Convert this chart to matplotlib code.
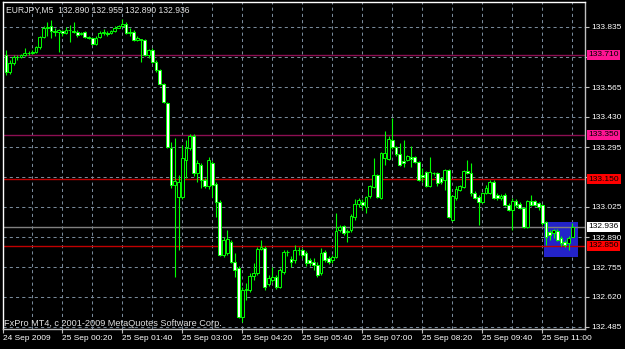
import matplotlib
matplotlib.use("Agg")
import matplotlib.pyplot as plt
from matplotlib.patches import Rectangle
import matplotlib.transforms as mtransforms

# EURJPY M5 bars (one value per bar)
opens = [133.709, 133.633, 133.673, 133.700, 133.700, 133.709, 133.718, 133.718, 133.723, 133.745,
         133.790, 133.831, 133.840, 133.817, 133.813, 133.817, 133.808, 133.822, 133.817, 133.813,
         133.804, 133.813, 133.790, 133.786, 133.759, 133.790, 133.808, 133.808, 133.808, 133.817,
         133.831, 133.840, 133.849, 133.808, 133.813, 133.777, 133.781, 133.777, 133.709, 133.732,
         133.678, 133.642, 133.579, 133.493, 133.291, 133.124, 133.070, 133.070, 133.237, 133.291,
         133.345, 133.178, 133.214, 133.147, 133.120, 133.223, 133.129, 133.048, 132.809, 132.818,
         132.868, 132.778, 132.751, 132.530, 132.652, 132.652, 132.715, 132.728, 132.836, 132.841,
         132.679, 132.697, 132.710, 132.665, 132.733, 132.823, 132.791, 132.787, 132.832, 132.832,
         132.818, 132.787, 132.778, 132.764, 132.728, 132.823, 132.796, 132.787, 132.800, 132.922,
         132.940, 132.913, 132.922, 132.980, 133.039, 133.048, 133.025, 133.075, 133.115, 133.169,
         133.066, 133.246, 133.241, 133.327, 133.295, 133.264, 133.232, 133.237, 133.250, 133.250,
         133.228, 133.169, 133.183, 133.120, 133.178, 133.178, 133.156, 133.147, 133.192, 132.967,
         133.066, 133.102, 133.115, 133.187, 133.178, 133.088, 133.070, 133.048, 133.088, 133.088,
         133.138, 133.079, 133.066, 133.079, 133.034, 133.012, 133.052, 133.039, 133.021, 132.935,
         133.052, 133.052, 133.043, 133.034, 132.958, 132.913, 132.908, 132.917, 132.886, 132.868,
         132.863, 132.890]
highs = [133.732, 133.687, 133.709, 133.709, 133.714, 133.741, 133.727, 133.732, 133.750, 133.795,
         133.840, 133.858, 133.867, 133.831, 133.826, 133.822, 133.835, 133.844, 133.858, 133.822,
         133.813, 133.817, 133.795, 133.790, 133.795, 133.817, 133.826, 133.817, 133.822, 133.840,
         133.844, 133.871, 133.858, 133.831, 133.822, 133.795, 133.781, 133.781, 133.736, 133.741,
         133.687, 133.646, 133.583, 133.498, 133.318, 133.336, 133.169, 133.304, 133.327, 133.354,
         133.354, 133.237, 133.223, 133.156, 133.250, 133.232, 133.138, 133.057, 132.890, 132.922,
         132.877, 132.818, 132.760, 132.665, 132.683, 132.728, 132.773, 132.845, 132.877, 132.850,
         132.719, 132.755, 132.719, 132.751, 132.832, 132.832, 132.805, 132.854, 132.845, 132.841,
         132.827, 132.796, 132.796, 132.778, 132.841, 132.832, 132.805, 132.809, 132.998, 132.944,
         132.944, 132.926, 132.994, 133.061, 133.066, 133.061, 133.075, 133.124, 133.246, 133.174,
         133.273, 133.367, 133.345, 133.426, 133.300, 133.313, 133.327, 133.259, 133.300, 133.255,
         133.232, 133.201, 133.187, 133.250, 133.183, 133.183, 133.160, 133.196, 133.196, 133.079,
         133.120, 133.124, 133.192, 133.237, 133.223, 133.097, 133.079, 133.093, 133.124, 133.147,
         133.147, 133.088, 133.084, 133.088, 133.043, 133.066, 133.061, 133.048, 133.025, 133.057,
         133.079, 133.057, 133.048, 133.039, 132.962, 132.922, 132.926, 132.926, 132.895, 132.877,
         132.895, 132.955]
lows = [133.619, 133.624, 133.664, 133.687, 133.696, 133.705, 133.709, 133.714, 133.718, 133.736,
        133.786, 133.795, 133.786, 133.795, 133.723, 133.795, 133.804, 133.768, 133.808, 133.790,
        133.799, 133.786, 133.781, 133.754, 133.754, 133.786, 133.799, 133.795, 133.804, 133.813,
        133.831, 133.835, 133.804, 133.795, 133.772, 133.772, 133.678, 133.705, 133.696, 133.673,
        133.633, 133.574, 133.493, 133.291, 133.111, 132.710, 132.832, 133.061, 133.156, 133.282,
        133.165, 133.138, 133.111, 133.111, 133.106, 133.070, 132.980, 132.805, 132.800, 132.809,
        132.773, 132.710, 132.526, 132.508, 132.607, 132.643, 132.697, 132.719, 132.832, 132.652,
        132.670, 132.688, 132.656, 132.661, 132.724, 132.805, 132.755, 132.773, 132.809, 132.796,
        132.760, 132.760, 132.742, 132.710, 132.719, 132.778, 132.769, 132.773, 132.796, 132.913,
        132.899, 132.868, 132.913, 132.967, 133.025, 133.012, 132.998, 133.066, 133.111, 133.066,
        133.061, 133.214, 133.237, 133.286, 133.255, 133.210, 133.205, 133.232, 133.205, 133.223,
        133.142, 133.138, 133.115, 133.115, 133.169, 133.120, 133.129, 133.102, 132.976, 132.962,
        133.057, 133.097, 133.111, 133.174, 133.075, 133.061, 132.944, 133.043, 133.084, 133.084,
        133.061, 133.057, 133.057, 133.030, 133.007, 132.922, 133.025, 133.016, 132.931, 132.931,
        133.030, 133.030, 133.012, 132.944, 132.854, 132.877, 132.886, 132.872, 132.850, 132.845,
        132.832, 132.890]
closes = [133.633, 133.673, 133.700, 133.700, 133.709, 133.718, 133.718, 133.723, 133.745, 133.790,
          133.831, 133.835, 133.817, 133.813, 133.822, 133.808, 133.822, 133.822, 133.813, 133.799,
          133.808, 133.790, 133.786, 133.759, 133.786, 133.808, 133.813, 133.804, 133.817, 133.831,
          133.840, 133.849, 133.808, 133.813, 133.777, 133.786, 133.777, 133.709, 133.732, 133.678,
          133.642, 133.579, 133.498, 133.295, 133.124, 133.142, 133.138, 133.246, 133.291, 133.345,
          133.178, 133.223, 133.147, 133.120, 133.237, 133.124, 133.048, 132.809, 132.877, 132.881,
          132.778, 132.742, 132.530, 132.652, 132.656, 132.715, 132.728, 132.836, 132.845, 132.665,
          132.706, 132.710, 132.665, 132.742, 132.823, 132.823, 132.778, 132.832, 132.832, 132.809,
          132.773, 132.773, 132.764, 132.719, 132.818, 132.787, 132.778, 132.800, 132.917, 132.935,
          132.908, 132.917, 132.985, 133.039, 133.057, 133.034, 133.070, 133.120, 133.169, 133.070,
          133.268, 133.268, 133.331, 133.295, 133.264, 133.214, 133.223, 133.255, 133.241, 133.228,
          133.147, 133.160, 133.120, 133.183, 133.178, 133.133, 133.138, 133.192, 132.980, 133.075,
          133.106, 133.120, 133.187, 133.178, 133.088, 133.066, 133.048, 133.088, 133.111, 133.138,
          133.066, 133.066, 133.075, 133.034, 133.012, 133.052, 133.034, 133.021, 132.935, 133.052,
          133.034, 133.034, 133.025, 132.953, 132.890, 132.899, 132.922, 132.877, 132.863, 132.854,
          132.886, 132.936]

time_labels = ["24 Sep 2009", "25 Sep 00:20", "25 Sep 01:40", "25 Sep 03:00", "25 Sep 04:20",
               "25 Sep 05:40", "25 Sep 07:00", "25 Sep 08:20", "25 Sep 09:40", "25 Sep 11:00"]
time_label_bars = [-0.8, 15, 31, 47, 63, 79, 95, 111, 127, 143]

price_grid = [133.835, 133.700, 133.565, 133.430, 133.295, 133.160, 133.025,
              132.890, 132.755, 132.620, 132.485]
price_labels = ["133.835", "", "133.565", "133.430", "133.295", "", "133.025",
                "132.890", "132.755", "132.620", "132.485"]

levels = [133.710, 133.350, 133.150, 132.850]
level_line_colors = ["#8c0f52", "#8c0f52", "#c00000", "#c00000"]
level_box_colors = ["#ff1493", "#ff1493", "#ff0000", "#ff0000"]
bid = 132.936

# rectangle object (bar index range, price range)
rect_bars = [143.5, 152.6]
rect_prices = [132.800, 132.957]

lime = "#00ff00"
grid_col = "#778899"

fig = plt.figure(figsize=(6.25, 3.49), dpi=100, facecolor="black")
ax = fig.add_axes([3 / 625, 1 - 329 / 349, 582 / 625, 327 / 349])
ax.set_facecolor("black")
ax.set_xlim(-0.8, 154.4)
ax.set_ylim(132.476, 133.9475)

# dashed grid
for p in price_grid:
    ax.axhline(p, color=grid_col, lw=0.75, ls=(0, (3, 3)), zorder=1)
for b in range(7, 152, 8):
    ax.axvline(b, color=grid_col, lw=0.75, ls=(0, (3, 3)), zorder=1)

ax.add_patch(Rectangle((rect_bars[0], rect_prices[0]), rect_bars[1] - rect_bars[0],
                       rect_prices[1] - rect_prices[0], facecolor="#2323c8",
                       edgecolor="none", zorder=1.5))

# price lines
ax.axhline(bid, color="#808080", lw=1.0, zorder=1.8)
for lv, lc in zip(levels, level_line_colors):
    ax.axhline(lv, color=lc, lw=1.0, zorder=1.8)

# candles
idx = list(range(len(closes)))
ax.vlines(idx, lows, highs, color=lime, lw=0.8, zorder=2.5)
bottoms = [min(o, c) for o, c in zip(opens, closes)]
heights = [abs(c - o) for o, c in zip(opens, closes)]
faces = ["black" if c >= o else "white" for o, c in zip(opens, closes)]
ax.bar(idx, heights, bottom=bottoms, width=0.72, color=faces, edgecolor=lime,
       linewidth=0.7, zorder=3)

# axes look
for side in ["left", "top"]:
    ax.spines[side].set_color("#ffffff")
for side in ["right", "bottom"]:
    ax.spines[side].set_color("#c0c0c0")
for s in ax.spines.values():
    s.set_linewidth(1.0)
    s.set_zorder(4)

fnt = "Liberation Sans"
ax.yaxis.tick_right()
ax.set_yticks(price_grid)
ax.set_yticklabels(price_labels, fontsize=6, color="white", family=fnt)
ax.tick_params(axis="y", colors="#c0c0c0", length=3, width=0.8, pad=1.5, labelcolor="white")
ax.set_xticks(time_label_bars)
ax.set_xticklabels(time_labels, fontsize=6, color="white", family=fnt)
ax.tick_params(axis="x", colors="#c0c0c0", length=3, width=0.8, pad=1.5, labelcolor="white")
for lab in ax.get_xticklabels():
    lab.set_ha("left")

# price boxes on the right axis
trans = mtransforms.blended_transform_factory(ax.transAxes, ax.transData)
for lv, bc in zip(levels, level_box_colors):
    ax.text(1.006, lv, "%.3f" % lv, transform=trans, fontsize=6, family=fnt, color="black",
            ha="left", va="center", clip_on=False, zorder=6,
            bbox=dict(boxstyle="square,pad=0.18", facecolor=bc, edgecolor="none"))
ax.text(1.006, bid, "%.3f" % bid, transform=trans, fontsize=6, family=fnt, color="black",
        ha="left", va="center", clip_on=False, zorder=6,
        bbox=dict(boxstyle="square,pad=0.18", facecolor="white", edgecolor="none"))

fig.text(6 / 625, 1 - 10 / 349, "EURJPY,M5  %.3f %.3f %.3f %.3f" % (opens[-1], highs[-1], lows[-1], closes[-1]),
         fontsize=6.2, family=fnt, color="#e0e0e0", va="center", ha="left")
fig.text(4 / 625, 1 - 324 / 349, "FxPro MT4, c 2001-2009 MetaQuotes Software Corp.",
         fontsize=6.6, family=fnt, color="#e0e0e0", va="center", ha="left")

fig.savefig("out.png", dpi=100, facecolor="black")
